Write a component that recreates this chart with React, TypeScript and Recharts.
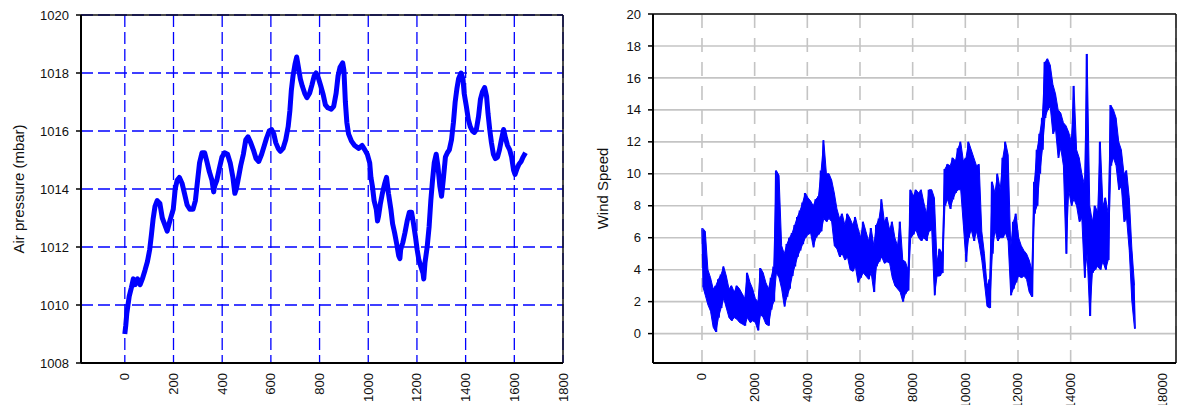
import React from 'react';
import {
  ComposedChart,
  LineChart,
  Line,
  Area,
  XAxis,
  YAxis,
  CartesianGrid,
  ReferenceLine,
} from 'recharts';

// Air pressure trace: sample index and reading (mbar)
const PRESSURE_T = [
  0, 4, 8, 18, 27, 35, 42, 52, 63, 72, 83, 93, 102, 109, 116, 124, 133, 144, 154, 163,
  174, 185, 199, 207, 215, 224, 235, 245, 256, 267, 280, 290, 299, 307, 317, 328, 337, 347, 358, 365,
  369, 378, 388, 399, 410, 422, 433, 444, 452, 458, 465, 476, 487, 497, 506, 517, 528, 539, 550, 562,
  573, 582, 593, 603, 612, 620, 630, 639, 650, 661, 671, 678, 684, 691, 699, 706, 713, 721, 729, 739,
  748, 759, 769, 778, 786, 796, 805, 815, 824, 834, 848, 858, 868, 876, 884, 895, 900, 906, 912, 919,
  931, 944, 961, 975, 986, 996, 1006, 1011, 1017, 1024, 1033, 1038, 1042, 1050, 1058, 1068, 1075, 1083, 1093, 1100,
  1108, 1117, 1125, 1130, 1133, 1142, 1151, 1160, 1169, 1178, 1186, 1194, 1201, 1208, 1217, 1225, 1228, 1233, 1242, 1250,
  1257, 1264, 1271, 1279, 1286, 1294, 1301, 1308, 1317, 1325, 1333, 1342, 1350, 1357, 1364, 1371, 1381, 1389, 1394, 1403,
  1411, 1419, 1428, 1436, 1444, 1453, 1461, 1469, 1478, 1486, 1492, 1499, 1506, 1514, 1522, 1531, 1539, 1547, 1556, 1564,
  1572, 1581, 1589, 1597, 1603, 1611, 1619, 1628, 1636, 1646,
];
const PRESSURE = [
  1009.0, 1009.3, 1009.7, 1010.3, 1010.6, 1010.9, 1010.7, 1010.9, 1010.7, 1010.9, 1011.2, 1011.5, 1011.9, 1012.4, 1012.95, 1013.4, 1013.6, 1013.5, 1013.0, 1012.8,
  1012.55, 1012.9, 1013.3, 1014.0, 1014.3, 1014.4, 1014.2, 1013.85, 1013.45, 1013.3, 1013.3, 1013.6, 1014.3, 1014.9, 1015.25, 1015.25, 1014.95, 1014.6, 1014.3, 1013.9,
  1014.1, 1014.3, 1014.7, 1015.1, 1015.25, 1015.2, 1014.9, 1014.4, 1013.85, 1014.0, 1014.3, 1014.8, 1015.2, 1015.7, 1015.8, 1015.6, 1015.35, 1015.05, 1014.95, 1015.2,
  1015.5, 1015.75, 1016.0, 1016.05, 1015.9, 1015.6, 1015.4, 1015.3, 1015.4, 1015.7, 1016.15, 1016.7, 1017.4, 1017.9, 1018.3, 1018.55, 1018.2, 1017.8, 1017.55, 1017.3,
  1017.15, 1017.3, 1017.6, 1017.9, 1018.0, 1017.8, 1017.55, 1017.25, 1016.9, 1016.8, 1016.75, 1016.85, 1017.3, 1017.9, 1018.2, 1018.35, 1018.1, 1017.0, 1016.3, 1015.9,
  1015.65, 1015.5, 1015.4, 1015.5, 1015.35, 1015.2, 1014.9, 1014.4, 1014.1, 1013.6, 1013.3, 1012.9, 1013.05, 1013.5, 1013.85, 1014.2, 1014.4, 1013.85, 1013.3, 1012.8,
  1012.5, 1012.1, 1011.7, 1011.6, 1011.9, 1012.15, 1012.5, 1012.9, 1013.2, 1013.2, 1012.8, 1012.35, 1011.9, 1011.55, 1011.3, 1011.1, 1010.9, 1011.45, 1012.0, 1012.7,
  1013.6, 1014.3, 1014.9, 1015.2, 1014.8, 1014.1, 1013.75, 1014.3, 1015.1, 1015.25, 1015.35, 1015.7, 1016.3, 1017.0, 1017.45, 1017.8, 1018.0, 1017.8, 1017.3, 1016.85,
  1016.4, 1016.15, 1016.0, 1015.95, 1016.05, 1016.5, 1017.1, 1017.35, 1017.5, 1017.2, 1016.6, 1016.05, 1015.6, 1015.2, 1015.05, 1015.1, 1015.35, 1015.7, 1016.05, 1015.75,
  1015.5, 1015.35, 1015.1, 1014.65, 1014.5, 1014.7, 1014.85, 1014.95, 1015.1, 1015.25,
];

// Wind speed, one upper and one lower reading per block of 100 samples
const WIND_BLOCK = 100;
const WIND_HIGH = [
  6.6, 6.4, 4.0, 3.5, 2.8, 3.0, 3.4, 3.7, 4.2, 3.6,
  2.8, 3.0, 2.6, 3.0, 2.8, 2.5, 2.2, 3.8, 3.2, 2.8,
  2.2, 2.0, 4.1, 3.8, 3.2, 2.8, 3.5, 4.2, 10.2, 9.9,
  5.5, 5.0, 5.6, 6.0, 6.3, 6.8, 7.3, 7.7, 8.2, 8.8,
  8.5, 8.3, 8.0, 8.4, 8.6, 10.2, 12.1, 10.0, 10.0, 9.6,
  8.8, 7.8, 7.2, 7.5, 6.8, 7.5, 7.2, 6.8, 7.3, 6.6,
  6.0, 7.0, 6.4, 5.8, 6.6, 5.5, 6.8, 7.2, 8.4, 7.0,
  7.3, 6.5, 7.0, 6.0, 5.5, 7.0, 4.6, 4.5, 4.0, 9.0,
  8.6, 9.0, 8.8, 9.0, 8.2, 7.5, 9.0, 9.0, 8.5, 4.5,
  5.3, 5.0, 10.3, 10.6, 10.5, 11.0, 10.8, 11.6, 12.0, 10.8,
  11.0, 12.0, 11.5, 11.0, 10.5, 10.6, 6.4, 5.0, 3.0, 3.4,
  9.5, 8.8, 10.0, 9.0, 11.0, 12.0, 11.2, 5.4, 7.0, 7.5,
  6.0, 5.5, 5.2, 5.0, 4.6, 4.0, 9.5, 11.5, 12.5, 13.5,
  17.0, 17.2, 16.8, 15.6, 15.0, 14.0, 13.8, 13.2, 13.0, 12.6,
  12.0, 15.5, 11.5, 11.0, 10.0, 9.3, 17.5, 8.0, 7.0, 8.0,
  7.6, 12.0, 8.0, 8.5, 7.5, 14.3, 14.0, 13.5, 12.0, 11.5,
  10.0, 10.2, 8.5, 5.3, 3.0,
];
const WIND_LOW = [
  3.0, 2.4, 1.8, 1.4, 0.4, 0.1, 1.0, 1.6, 2.2, 1.6,
  1.0, 0.8, 1.0, 0.9, 0.7, 0.6, 0.5, 1.0, 0.7, 0.8,
  0.7, 0.2, 1.2, 1.0, 0.6, 0.5, 1.5, 2.0, 3.8, 3.5,
  2.8, 1.7, 2.3, 2.8, 3.6, 4.2, 4.8, 5.2, 5.6, 6.0,
  6.2, 6.3, 5.4, 6.0, 6.2, 6.4, 7.2, 7.0, 7.2, 7.0,
  5.5, 5.3, 4.8, 5.0, 4.6, 4.8, 4.0, 3.9, 4.2, 3.2,
  3.5, 3.8, 3.6, 3.4, 3.8, 2.6, 4.2, 4.5, 4.8, 4.4,
  4.5, 4.4, 3.5, 3.0, 2.8, 2.6, 2.0, 2.5, 2.7, 6.0,
  6.2, 6.5, 6.0, 5.8, 6.0, 5.8, 6.4, 6.5, 2.4, 3.6,
  3.6, 3.8, 8.0, 8.4, 7.8, 8.4, 8.8, 9.0, 9.0, 6.8,
  4.5, 6.0, 6.5, 5.8, 6.4, 5.6, 4.6, 3.2, 1.7, 1.6,
  5.0, 6.5, 5.8, 6.0, 6.0, 6.3, 5.8, 2.4, 2.8, 3.2,
  3.6, 3.5, 3.6, 3.4, 2.6, 2.3, 7.5, 8.0, 10.0, 11.5,
  13.5, 14.0, 14.2, 12.5, 12.8, 11.0, 11.6, 10.5, 5.0, 9.0,
  8.0, 8.4, 8.0, 7.0, 7.2, 3.5, 5.0, 1.1, 3.8, 4.0,
  4.2, 4.0, 4.5, 4.0, 4.6, 10.5, 11.0, 10.5, 9.0, 9.2,
  7.0, 7.2, 5.2, 2.0, 0.3,
];

const PRESSURE_TICKS = [1008, 1010, 1012, 1014, 1016, 1018, 1020];
const SAMPLE_TICKS = [0, 200, 400, 600, 800, 1000, 1200, 1400, 1600, 1800];
const WIND_TICKS = [0, 2, 4, 6, 8, 10, 12, 14, 16, 18, 20];
const WIND_SAMPLE_TICKS = [0, 2000, 4000, 6000, 8000, 10000, 12000, 14000, 16000, 18000];

const pressureData = PRESSURE_T.map((t, i) => ({ t, p: PRESSURE[i] }));
// band: spread of each block, trace: alternating high/low readings on top of it
const windBand = WIND_HIGH.map((hi, i) => ({
  t: i * WIND_BLOCK + WIND_BLOCK / 4,
  band: [WIND_LOW[i], hi],
}));
const windTrace = WIND_HIGH.flatMap((hi, i) => [
  { t: i * WIND_BLOCK, w: hi },
  { t: i * WIND_BLOCK + WIND_BLOCK / 2, w: WIND_LOW[i] },
]);

const FONT = '"Liberation Sans", Arial, sans-serif';
const BLUE = '#0000ff';

const RotatedTick = ({ x, y, payload }: any) => (
  <text
    x={x}
    y={y}
    transform={`rotate(-90, ${x}, ${y})`}
    textAnchor="end"
    dominantBaseline="central"
    fontSize={13}
    fontFamily={FONT}
    fill="#111"
  >
    {payload.value}
  </text>
);

const axisTitle = (text: string, x: number) => (props: any) => {
  const vb = props.viewBox;
  const cy = vb.y + vb.height / 2;
  return (
    <text
      x={x}
      y={cy}
      transform={`rotate(-90, ${x}, ${cy})`}
      textAnchor="middle"
      dominantBaseline="central"
      fontSize={15}
      fontFamily={FONT}
      fill="#111"
    >
      {text}
    </text>
  );
};

const tickStyle = { fontSize: 13, fontFamily: FONT, fill: '#111' };

export default function App() {
  return (
    <div
      style={{
        position: 'absolute',
        left: 0,
        top: 0,
        width: 1182,
        height: 405,
        overflow: 'hidden',
        background: '#fff',
      }}
    >
      <div style={{ position: 'absolute', left: 0, top: 0 }}>
        <LineChart
          width={590}
          height={420}
          data={pressureData}
          margin={{ top: 15, right: 27, bottom: 17, left: 0 }}
        >
          <CartesianGrid stroke={BLUE} strokeWidth={1.3} strokeDasharray="12 5" />
          <XAxis
            dataKey="t"
            type="number"
            domain={[-180, 1800]}
            ticks={SAMPLE_TICKS}
            allowDataOverflow
            tickSize={0}
            tickMargin={10}
            tick={<RotatedTick />}
            axisLine={{ stroke: '#000', strokeWidth: 2 }}
            height={40}
          />
          <YAxis
            type="number"
            domain={[1008, 1020]}
            ticks={PRESSURE_TICKS}
            allowDataOverflow
            width={81}
            tickSize={5}
            tickMargin={7}
            tick={tickStyle}
            tickLine={{ stroke: '#000', strokeWidth: 1.5 }}
            axisLine={{ stroke: '#000', strokeWidth: 2 }}
            label={{ content: axisTitle('Air pressure (mbar)', 18.8) }}
          />
          <ReferenceLine y={1020} stroke="#111" strokeWidth={1.5} />
          <ReferenceLine x={1800} stroke="#111" strokeWidth={1.5} />
          <Line
            dataKey="p"
            stroke={BLUE}
            strokeWidth={5}
            strokeLinejoin="round"
            dot={false}
            isAnimationActive={false}
          />
        </LineChart>
      </div>
      <div style={{ position: 'absolute', left: 585, top: 0 }}>
        <ComposedChart
          width={597}
          height={420}
          margin={{ top: 14, right: 6, bottom: 17, left: 0 }}
        >
          <CartesianGrid vertical={false} stroke="#c4c4c4" strokeWidth={1.6} />
          <CartesianGrid horizontal={false} stroke="#c4c4c4" strokeWidth={1.6} strokeDasharray="14 10" />
          <XAxis
            dataKey="t"
            type="number"
            domain={[-1860, 18000]}
            ticks={WIND_SAMPLE_TICKS}
            allowDataOverflow
            tickSize={0}
            tickMargin={10}
            tick={<RotatedTick />}
            axisLine={{ stroke: '#000', strokeWidth: 2 }}
            height={40}
          />
          <YAxis
            type="number"
            domain={[-1.84, 20]}
            ticks={WIND_TICKS}
            allowDataOverflow
            width={68}
            tickSize={5}
            tickMargin={7}
            tick={tickStyle}
            tickLine={{ stroke: '#000', strokeWidth: 1.5 }}
            axisLine={{ stroke: '#000', strokeWidth: 2 }}
            label={{ content: axisTitle('Wind Speed', 17.8) }}
          />
          <ReferenceLine y={20} stroke="#111" strokeWidth={1.5} />
          <ReferenceLine x={18000} stroke="#111" strokeWidth={1.5} />
          <Area
            data={windBand}
            dataKey="band"
            stroke={BLUE}
            strokeWidth={1}
            fill={BLUE}
            fillOpacity={1}
            isAnimationActive={false}
          />
          <Line
            data={windTrace}
            dataKey="w"
            stroke={BLUE}
            strokeWidth={1.5}
            dot={false}
            isAnimationActive={false}
          />
        </ComposedChart>
      </div>
    </div>
  );
}
